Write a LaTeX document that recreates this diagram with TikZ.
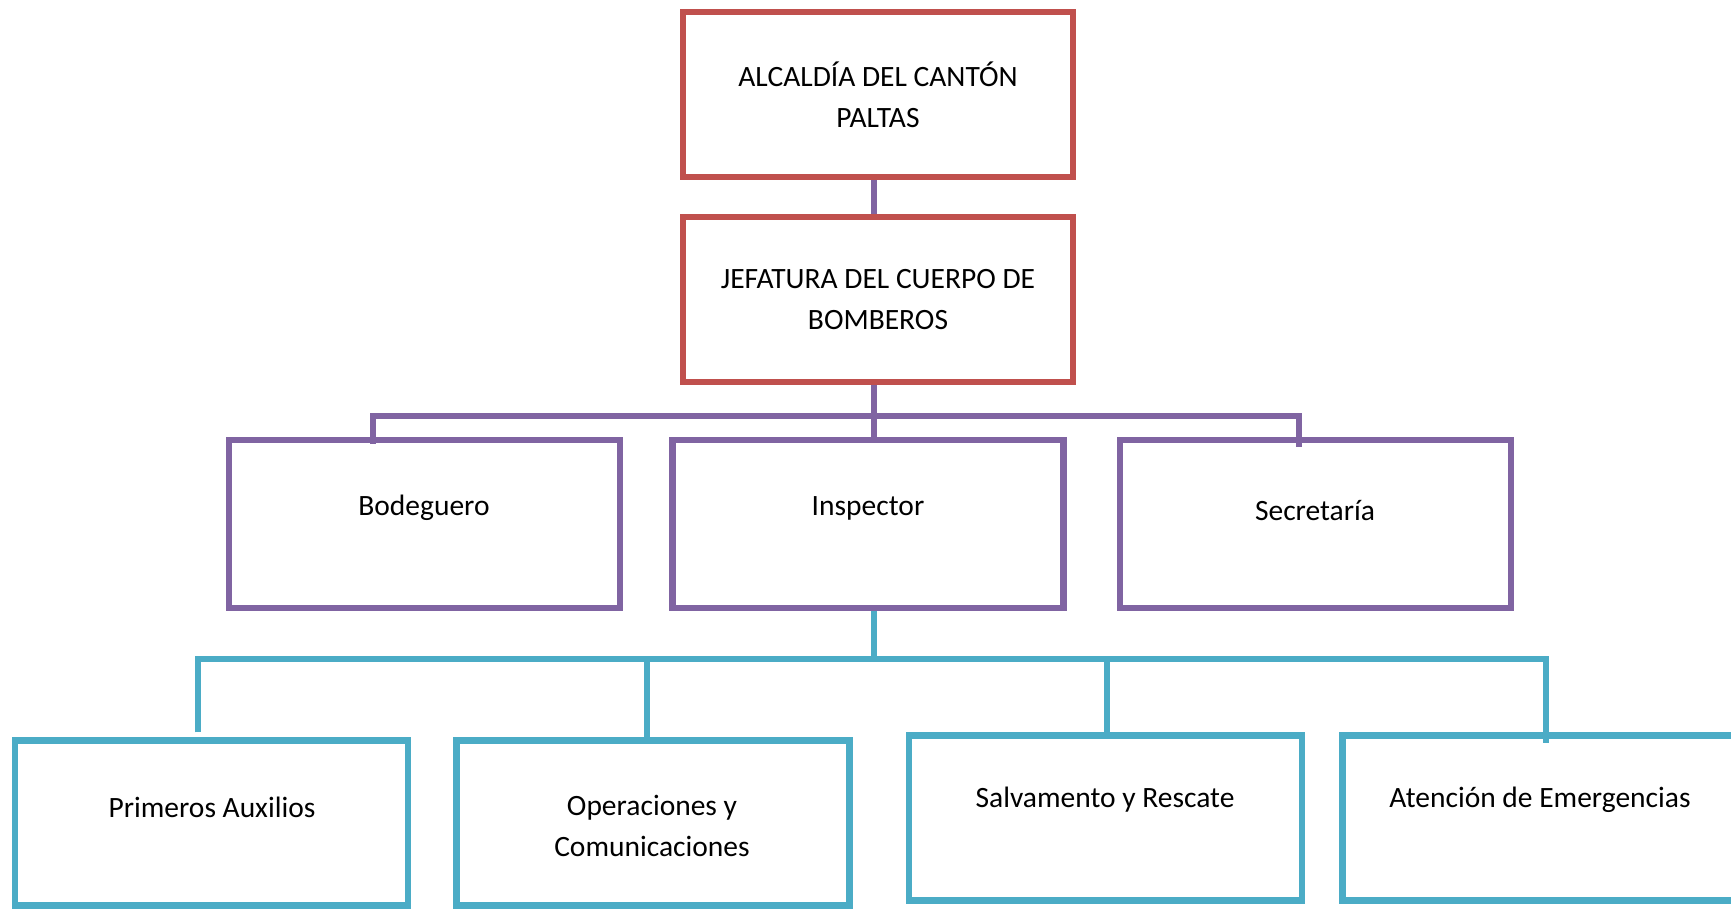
\documentclass[tikz,border=0pt]{standalone}
\usepackage{fontspec}
\setmainfont{Carlito}
\usetikzlibrary{calc}
\definecolor{boxred}{HTML}{C0504D}
\definecolor{boxpurple}{HTML}{8064A2}
\definecolor{boxcyan}{HTML}{4BACC6}
\begin{document}
\begin{tikzpicture}[x=1pt,y=-1pt,
  every node/.style={inner sep=0pt},
  frame/.style={draw, line width=6.5pt, rectangle, outer sep=3.25pt},
  redbox/.style={frame, boxred, minimum width=390pt, minimum height=165pt},
  purplebox/.style={frame, boxpurple, minimum width=391pt, minimum height=168pt},
  cyanbox/.style={frame, boxcyan, minimum width=393pt, minimum height=165pt},
  lbl/.style={font=\fontsize{29.5}{41}\selectfont, align=center, text=black},
  pline/.style={draw=boxpurple, line width=6.5pt, line join=miter},
  cline/.style={draw=boxcyan, line width=6.5pt, line join=miter}]
\useasboundingbox (0,0) rectangle (1731,909);
\clip (0,0) rectangle (1731,909);

% top levels
\node[redbox] (alc) at (878,94.5) {};
\node[redbox] (jef) at (878,299.5) {};
\node[lbl] (alct) at (878,95) {ALCALDÍA DEL CANTÓN\\PALTAS};
\node[lbl] (jeft) at (878,300) {JEFATURA DEL CUERPO DE\\BOMBEROS};

% second level
\node[purplebox] (bod) at (424.5,524) {};
\node[purplebox] (ins) at (868,524) {};
\node[purplebox] (sec) at (1315.5,524) {};
\node[lbl] (bodt) at (424,508) {Bodeguero};
\node[lbl] (inst) at (868,508) {Inspector};
\node[lbl] (sect) at (1315,511) {Secretaría};

% third level
\node[cyanbox] (pri) at (211.5,823) {};
\node[cyanbox] (ope) at (653,823) {};
\node[cyanbox] (sal) at (1105.5,818) {};
\node[cyanbox] (ate) at (1539,818) {};
\node[lbl] (prit) at (212,807) {Primeros Auxilios};
\node[lbl] (opet) at (652,826) {Operaciones y\\Comunicaciones};
\node[lbl] (salt) at (1105,800) {Salvamento y Rescate};
\node[lbl] (atet) at (1540,800) {Atención de Emergencias};

% connectors
\coordinate (pbus) at (874,416);
\coordinate (cbus) at (874,659);
\draw[pline] ([xshift=-4pt]alc.south) -- ([xshift=-4pt]jef.north);
\draw[pline] ($(bod.north)+(-51.5,7)$) |- (pbus) -| ($(sec.north)+(-16.5,10)$);
\draw[pline] ([xshift=-4pt]jef.south) -- ([xshift=6pt]ins.north);
\draw[cline] ([xshift=6pt]ins.south) -- (cbus);
\draw[cline] ($(pri.north)+(-13.5,-5)$) |- (cbus) -| ($(ate.north)+(7,11)$);
\draw[cline] (cbus -| ope.north) ++(-6,0) -- ($(ope.north)+(-6,0)$);
\draw[cline] (cbus -| sal.north) ++(1.5,0) -- ($(sal.north)+(1.5,0)$);
\end{tikzpicture}
\end{document}
